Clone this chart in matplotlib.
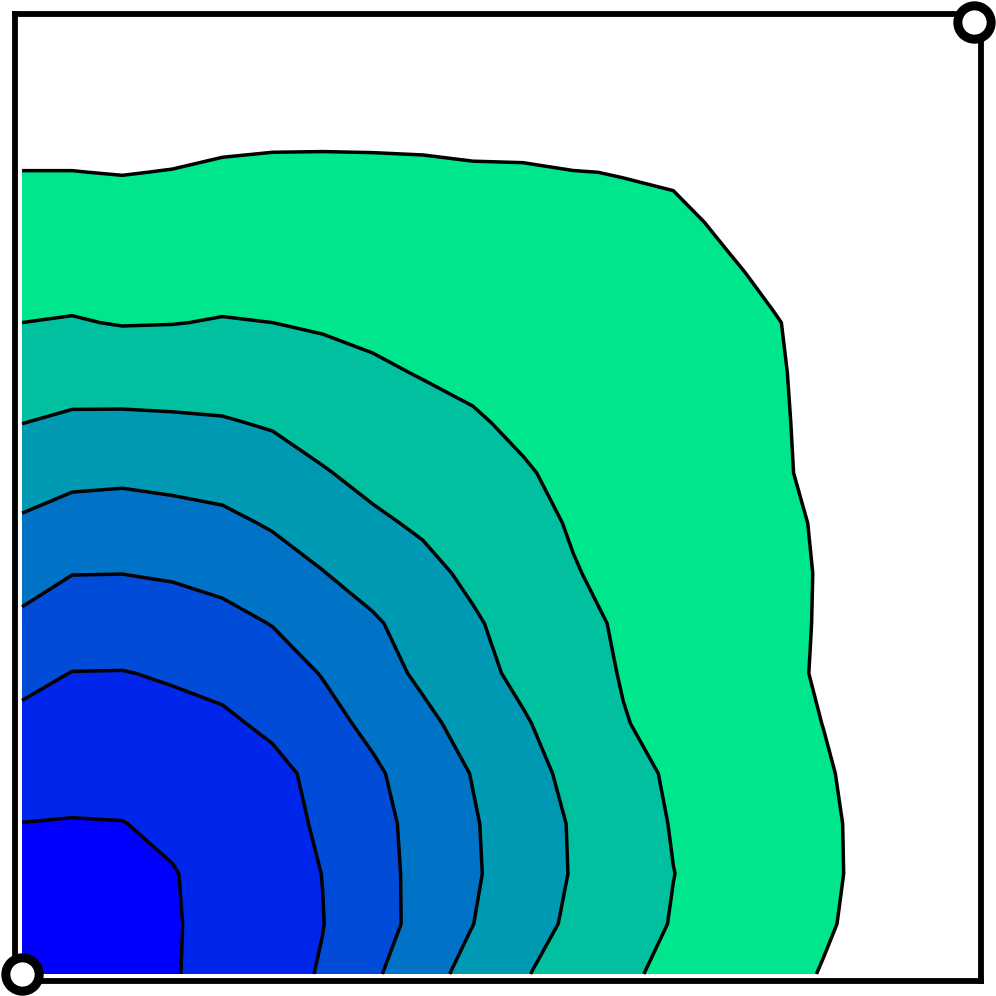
import numpy as np
import matplotlib
matplotlib.use("Agg")
import matplotlib.pyplot as plt

# 20 x 20 grid on the unit square, rows listed from bottom (y=0) to top (y=1)
n_x = 20
n_y = 20
levels = [0, 1, 2, 3, 4, 5, 6, 7]

z_rows = [
    [0.10, 0.34, 0.64, 0.94, 1.29, 1.66, 2.07, 2.85, 3.63, 4.32, 4.93, 5.40, 5.86, 6.20, 6.48, 6.76, 7.04, 7.34, 7.64, 7.94],
    [0.40, 0.45, 0.63, 0.93, 1.27, 1.63, 1.98, 2.62, 3.29, 3.99, 4.60, 5.17, 5.62, 6.05, 6.34, 6.63, 6.92, 7.22, 7.52, 7.82],
    [0.70, 0.66, 0.78, 0.955, 1.30, 1.65, 2.01, 2.65, 3.28, 3.89, 4.48, 5.06, 5.53, 5.99, 6.29, 6.59, 6.88, 7.18, 7.48, 7.78],
    [0.99, 0.96, 0.98, 1.17, 1.49, 1.77, 2.09, 2.70, 3.31, 3.92, 4.51, 5.08, 5.59, 6.05, 6.33, 6.61, 6.89, 7.18, 7.48, 7.78],
    [1.39, 1.30, 1.31, 1.48, 1.64, 1.72, 2.29, 2.85, 3.44, 4.04, 4.67, 5.23, 5.72, 6.12, 6.39, 6.66, 6.93, 7.23, 7.53, 7.83],
    [1.78, 1.64, 1.64, 1.76, 1.83, 2.19, 2.70, 3.21, 3.78, 4.35, 4.91, 5.44, 5.96, 6.24, 6.50, 6.75, 7.01, 7.31, 7.61, 7.91],
    [2.26, 1.98, 1.97, 2.08, 2.29, 2.60, 3.04, 3.61, 4.17, 4.72, 5.21, 5.65, 6.05, 6.31, 6.56, 6.81, 7.08, 7.38, 7.68, 7.98],
    [2.82, 2.50, 2.48, 2.58, 2.75, 3.03, 3.50, 3.88, 4.42, 4.90, 5.34, 5.77, 6.11, 6.34, 6.58, 6.81, 7.06, 7.36, 7.66, 7.96],
    [3.37, 3.02, 3.01, 3.09, 3.25, 3.57, 3.97, 4.39, 4.77, 5.17, 5.56, 5.96, 6.19, 6.40, 6.61, 6.82, 7.05, 7.35, 7.65, 7.95],
    [3.89, 3.63, 3.59, 3.67, 3.80, 4.09, 4.45, 4.86, 5.12, 5.41, 5.78, 6.06, 6.25, 6.45, 6.65, 6.85, 7.07, 7.37, 7.67, 7.97],
    [4.45, 4.23, 4.18, 4.27, 4.36, 4.59, 4.94, 5.23, 5.43, 5.68, 5.94, 6.16, 6.34, 6.53, 6.72, 6.90, 7.15, 7.45, 7.75, 8.05],
    [5.01, 4.85, 4.83, 4.87, 4.93, 5.08, 5.34, 5.56, 5.75, 5.93, 6.12, 6.28, 6.44, 6.61, 6.77, 6.90, 7.19, 7.49, 7.79, 8.09],
    [5.51, 5.41, 5.45, 5.46, 5.45, 5.54, 5.73, 5.89, 6.04, 6.14, 6.28, 6.48, 6.55, 6.70, 6.83, 6.92, 7.21, 7.51, 7.81, 8.11],
    [6.00, 5.95, 6.04, 6.02, 5.96, 6.00, 6.08, 6.17, 6.26, 6.34, 6.45, 6.60, 6.73, 6.75, 6.84, 6.95, 7.27, 7.57, 7.87, 8.17],
    [6.33, 6.31, 6.36, 6.34, 6.29, 6.30, 6.35, 6.41, 6.47, 6.54, 6.62, 6.73, 6.82, 6.78, 6.87, 7.17, 7.47, 7.77, 8.07, 8.37],
    [6.66, 6.65, 6.69, 6.66, 6.60, 6.59, 6.61, 6.65, 6.69, 6.74, 6.78, 6.86, 6.92, 6.81, 7.115, 7.32, 7.71, 8.01, 8.31, 8.61],
    [6.99, 6.99, 7.02, 6.98, 6.91, 6.88, 6.88, 6.89, 6.91, 6.94, 6.95, 6.99, 7.01, 7.11, 7.44, 7.83, 8.10, 8.30, 8.60, 8.90],
    [7.29, 7.29, 7.32, 7.29, 7.21, 7.18, 7.17, 7.17, 7.17, 7.21, 7.21, 7.27, 7.33, 7.41, 7.74, 8.13, 8.40, 8.50, 8.90, 9.20],
    [7.59, 7.59, 7.62, 7.59, 7.51, 7.48, 7.47, 7.47, 7.47, 7.51, 7.51, 7.57, 7.63, 7.71, 8.04, 8.43, 8.70, 8.80, 9.00, 9.40],
    [7.89, 7.89, 7.92, 7.89, 7.81, 7.78, 7.77, 7.77, 7.77, 7.81, 7.81, 7.87, 7.93, 8.01, 8.34, 8.73, 9.00, 9.10, 9.30, 9.50],
]

corner_x = [0, 1]
corner_y = [0, 1]

x = np.linspace(0, 1, n_x)
y = np.linspace(0, 1, n_y)
Z = np.array(z_rows)

# winter colormap, blue for the lowest band up to green for the highest
band_colors = plt.cm.winter(np.linspace(0, 0.9, len(levels) - 1))

fig = plt.figure(figsize=(9.96, 9.96), dpi=100)
ax = fig.add_axes([15 / 996, 15 / 996, 966 / 996, 967 / 996])
ax.contourf(x, y, Z, levels=levels, colors=band_colors)
ax.contour(x, y, Z, levels=levels[1:], colors='black', linewidths=2.5)
ax.plot(corner_x, corner_y, 'o', ms=24, mfc='white', mec='black', mew=6.5,
        clip_on=False, zorder=5)

ax.set_xlim(-0.0074, 1.0074)
ax.set_ylim(-0.0074, 1.0084)
ax.set_xticks([])
ax.set_yticks([])
for spine in ax.spines.values():
    spine.set_linewidth(4.2)

fig.savefig('out.png', dpi=100)
plt.close(fig)
